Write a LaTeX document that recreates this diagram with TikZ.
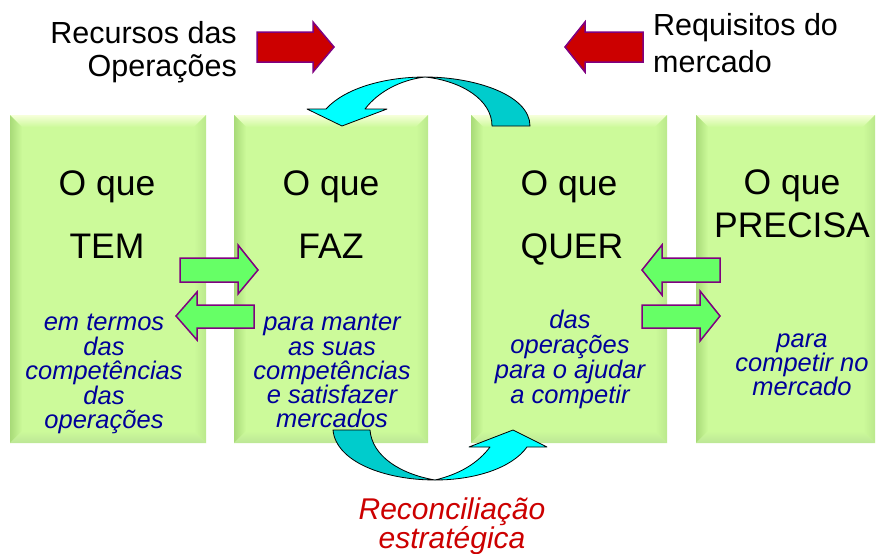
\documentclass[tikz,border=0pt]{standalone}
\usepackage{fontspec}
\setmainfont{Liberation Sans}
\definecolor{boxgreen}{RGB}{204,250,154}
\definecolor{bevtop}{RGB}{246,255,218}
\definecolor{bevleft}{RGB}{168,218,120}
\definecolor{bevright}{RGB}{186,232,140}
\definecolor{bevbot}{RGB}{188,230,150}
\definecolor{navy}{RGB}{0,0,153}
\definecolor{arrowred}{RGB}{204,0,0}
\definecolor{arrowpurple}{RGB}{128,0,128}
\definecolor{arrowgreen}{RGB}{102,255,102}
\definecolor{cyandk}{RGB}{0,204,204}
\definecolor{cyanlt}{RGB}{0,255,255}
\newcommand\bevbox[5]{%
  \node[box, minimum width={(#4-#2)*1pt}, minimum height={(#5-#3)*1pt}] (#1) at ({(#2+#4)/2},{(#3+#5)/2}) {};
  \shade[top color=bevtop, bottom color=boxgreen] (#2,#3) -- (#4,#3) -- ({#4-12},{#3+12}) -- ({#2+12},{#3+12}) -- cycle;
  \shade[left color=bevleft, right color=boxgreen] (#2,#3) -- ({#2+12},{#3+12}) -- ({#2+12},{#5-12}) -- (#2,#5) -- cycle;
  \shade[left color=boxgreen, right color=bevright] (#4,#3) -- (#4,#5) -- ({#4-12},{#5-12}) -- ({#4-12},{#3+12}) -- cycle;
  \shade[top color=boxgreen, bottom color=bevbot] (#2,#5) -- (#4,#5) -- ({#4-12},{#5-12}) -- ({#2+12},{#5-12}) -- cycle;
}
\begin{document}
\begin{tikzpicture}[x=1pt,y=-1pt,
  box/.style={draw=none,fill=boxgreen,inner sep=0pt,outer sep=0pt},
  title/.style={font=\fontsize{35.5}{40}\selectfont, anchor=base, inner sep=0pt},
  sub/.style={font=\fontsize{25.5}{26}\selectfont\itshape, text=navy, anchor=base, inner sep=0pt},
  lab/.style={font=\fontsize{30.5}{33}\selectfont, inner sep=0pt},
  rec/.style={font=\fontsize{30}{33}\selectfont\itshape, text=arrowred, anchor=base, inner sep=0pt},
  blockred/.style={fill=arrowred, draw=arrowpurple, line width=1.5pt},
  blockgreen/.style={fill=arrowgreen, draw=arrowpurple, line width=1.5pt},
  cyandark/.style={fill=cyandk, draw=black, line width=0.8pt, line join=round},
  cyanlight/.style={fill=cyanlt, draw=black, line width=0.8pt, line join=round}]
\useasboundingbox (0,0) rectangle (881,554);

% boxes
\bevbox{b1}{10}{115}{206}{443}
\bevbox{b2}{234}{115}{428}{443}
\bevbox{b3}{471}{115}{667}{443}
\bevbox{b4}{696}{115}{875}{443}

% top labels
\node[lab, anchor=base east] (rec1) at (237,43) {Recursos das};
\node[lab, anchor=base east] (rec2) at (237,76) {Operações};
\node[lab, anchor=base west] (req1) at (653,35) {Requisitos do};
\node[lab, anchor=base west] (req2) at (653,72) {mercado};

% red arrows
\draw[blockred] (257,32) -- (313,32) -- (313,22) -- (334,47) -- (313,72) -- (313,62) -- (257,62) -- cycle;
\draw[blockred] (643,32) -- (585,32) -- (585,22) -- (565,47) -- (585,72) -- (585,62) -- (643,62) -- cycle;

% box titles
\node[title] (t1a) at (107,195) {O que};
\node[title] (t1b) at (107,258) {TEM};
\node[title] (t2a) at (331,195) {O que};
\node[title] (t2b) at (331,258) {FAZ};
\node[title] (t3a) at (569,195) {O que};
\node[title] (t3b) at (572,258) {QUER};
\node[title] (t4a) at (792,194) {O que};
\node[title] (t4b) at (792,237) {PRECISA};

% box subtexts
\node[sub] (s1a) at (104,330) {em termos};
\node[sub] (s1b) at (104,355) {das};
\node[sub] (s1c) at (104,379) {competências};
\node[sub] (s1d) at (104,404) {das};
\node[sub] (s1e) at (104,428) {operações};
\node[sub] (s2a) at (332,330) {para manter};
\node[sub] (s2b) at (332,355) {as suas};
\node[sub] (s2c) at (332,379) {competências};
\node[sub] (s2d) at (332,403) {e satisfazer};
\node[sub] (s2e) at (332,427) {mercados};
\node[sub] (s3a) at (570,328) {das};
\node[sub] (s3b) at (570,353) {operações};
\node[sub] (s3c) at (570,378) {para o ajudar};
\node[sub] (s3d) at (570,403) {a competir};
\node[sub] (s4a) at (802,347) {para};
\node[sub] (s4b) at (802,371) {competir no};
\node[sub] (s4c) at (802,395) {mercado};

% green arrows
\draw[blockgreen] (180,258) -- (238,258) -- (238,245) -- (258,270) -- (238,294) -- (238,282) -- (180,282) -- cycle;
\draw[blockgreen] (254,305) -- (197,305) -- (197,292) -- (176,316) -- (197,340) -- (197,328) -- (254,328) -- cycle;
\draw[blockgreen] (720,258) -- (662,258) -- (662,245) -- (642,270) -- (662,295) -- (662,282) -- (720,282) -- cycle;
\draw[blockgreen] (642,305) -- (700,305) -- (700,291) -- (720,316) -- (700,341) -- (700,328) -- (642,328) -- cycle;

% top curved arrow
\draw[cyandark] (530,126) .. controls (530,95) and (475,77) .. (425,77) .. controls (462,81) and (492,100) .. (492,126) -- cycle;
\draw[cyanlight] (425,77) .. controls (385,77) and (345,88) .. (326,109) -- (307,109) -- (342,126) -- (387,109) -- (365,109) .. controls (378,92) and (400,80) .. (425,77) -- cycle;

% bottom curved arrow
\draw[cyandark] (333,430) .. controls (336,462) and (385,480) .. (435,480) .. controls (400,474) and (372,456) .. (370,430) -- cycle;
\draw[cyanlight] (435,480) .. controls (475,480) and (512,468) .. (527,447) -- (547,447) -- (513,430) -- (469,447) -- (490,447) .. controls (478,463) and (460,474) .. (435,480) -- cycle;

% bottom label
\node[rec] (rc1) at (452,519) {Reconciliação};
\node[rec] (rc2) at (452,548) {estratégica};
\end{tikzpicture}
\end{document}
